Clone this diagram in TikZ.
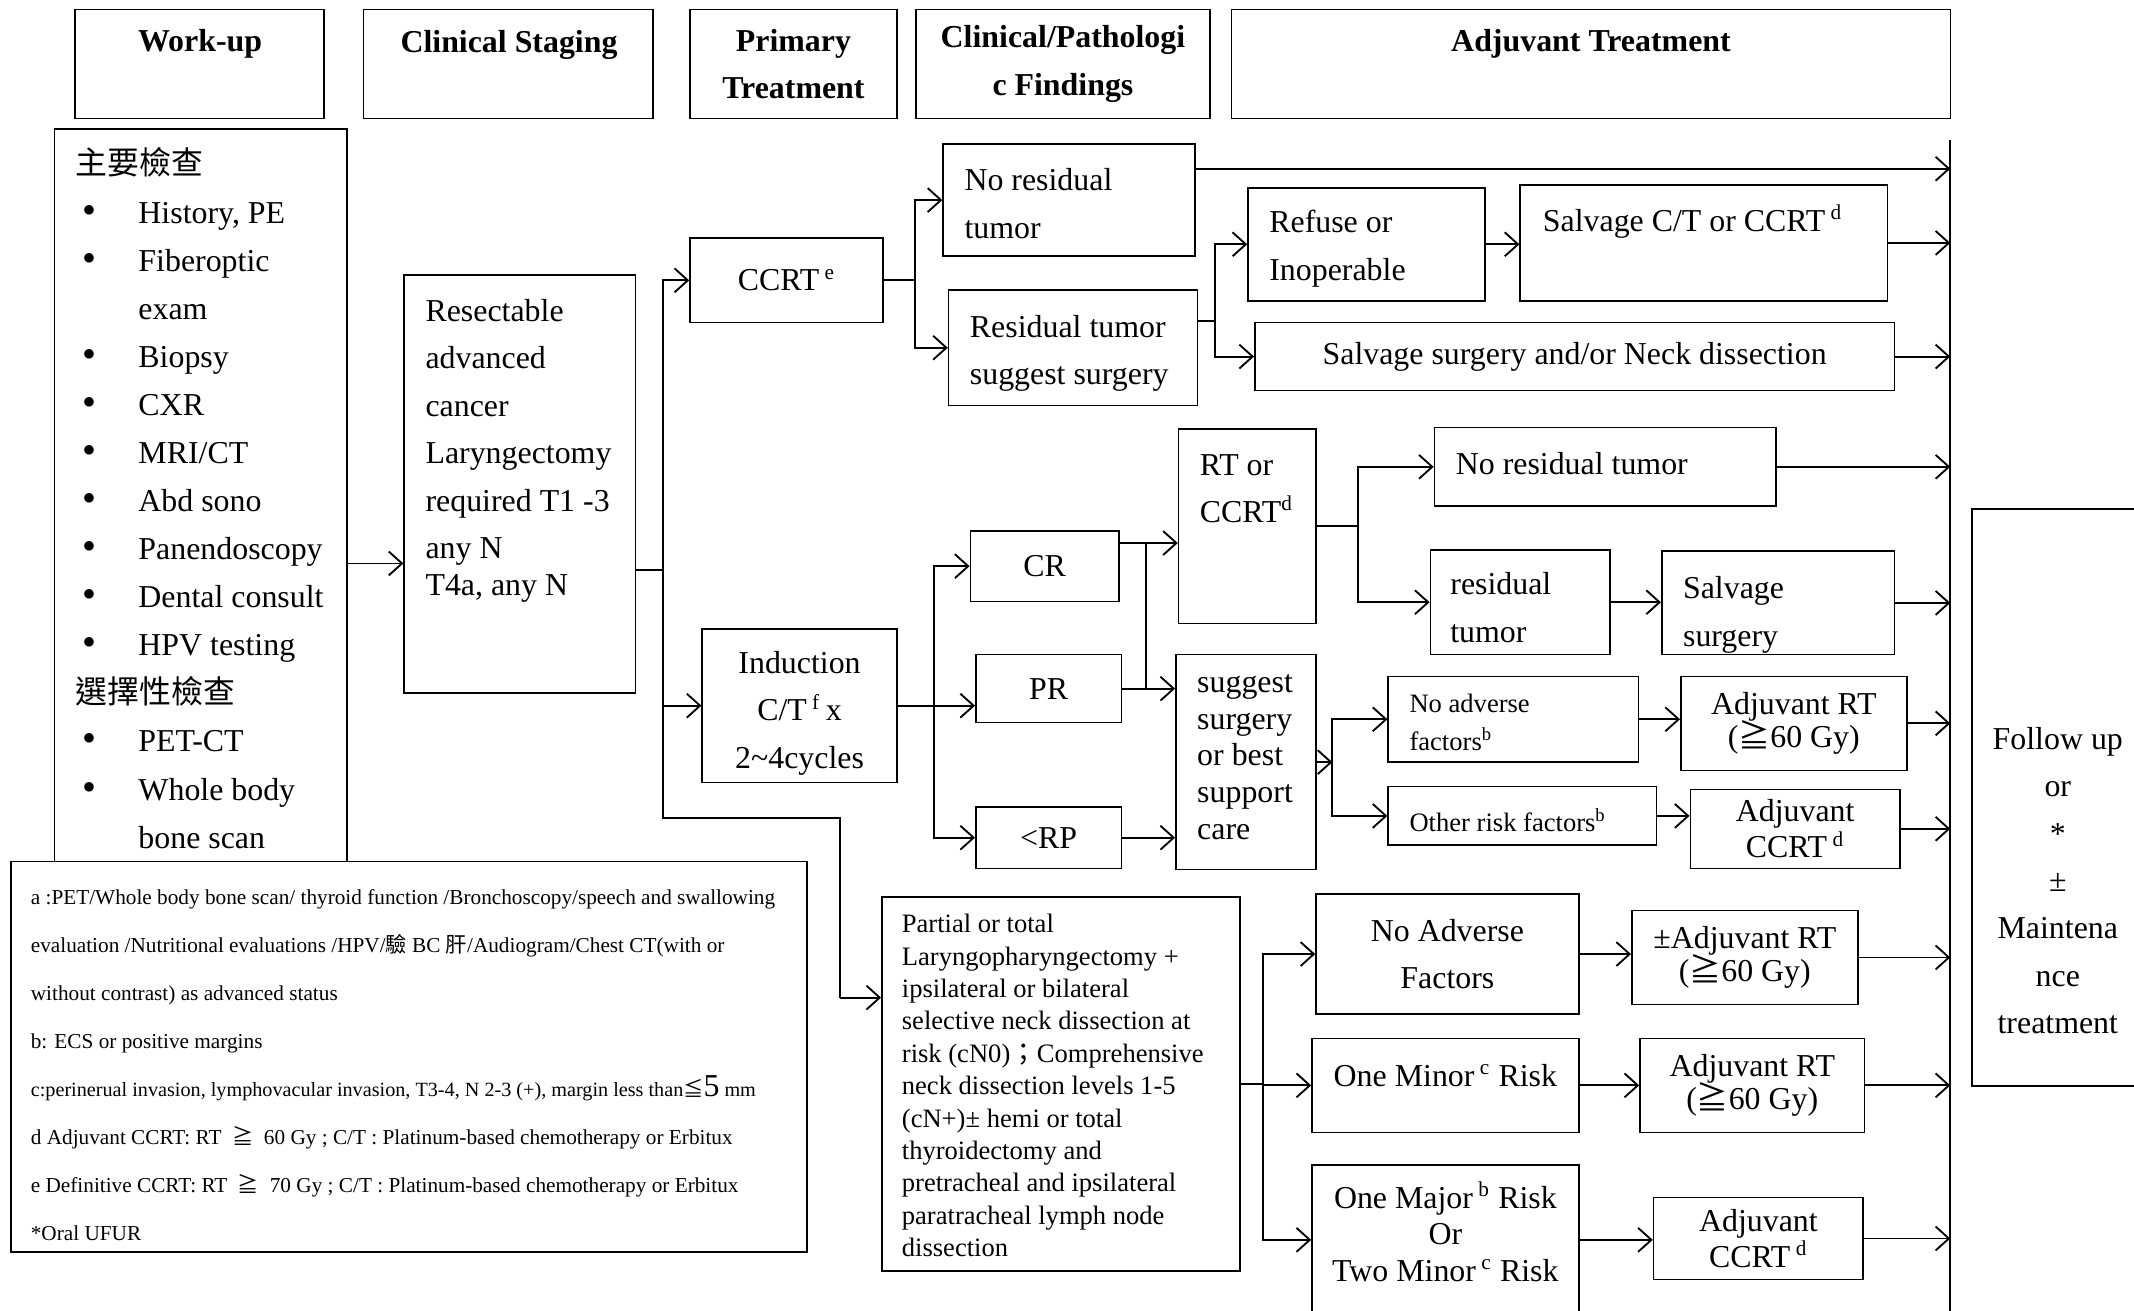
\documentclass[tikz,border=0pt]{standalone}
\usepackage{fontspec}
\setmainfont{Liberation Serif}
\newfontfamily\cjk{Noto Sans CJK TC}
\usetikzlibrary{arrows.meta,positioning}

\newcommand{\px}{0.018cm}
% box from (x1,y1) to (x2,y2), y counted downwards
\newcommand{\bx}[7][]{\node[box,#1,minimum width={(#5-#3)*\px},minimum height={(#6-#4)*\px}] (#2) at ({(#3+#5)/2},{(#4+#6)/2}) {#7};}
\newcommand{\itm}[1]{\hspace*{2.6pt}\makebox[21pt][l]{\smash{\fontsize{15}{15}\selectfont •}}#1}
\newcommand{\cnt}[1]{\hspace*{23.6pt}#1}
\newcommand{\geqc}{\smash{\cjk ≧}}
\newcommand{\leqc}{\smash{\cjk ≦}}
\AtBeginDocument{\fontsize{12}{17.9}\selectfont}

\tikzset{
  box/.style={draw, line width=0.6pt, inner sep=0pt, align=center},
  txt/.style={inner sep=0pt, anchor=north west, align=left},
}

\begin{document}
\begin{tikzpicture}[x=\px, y=-\px, line width=0.7pt, >={Straight Barb[length=5pt,width=9pt]}]
\useasboundingbox (0,0) rectangle (1568,963);

% column headers
\bx{hwork}{55}{7}{238}{87}{}
\node[font=\bfseries] (lwork) at (147,32) {Work-up};
\bx{hstage}{267}{7}{480}{87}{}
\node[font=\bfseries] (lstage) at (374,33) {Clinical Staging};
\bx[font=\bfseries]{hprim}{507}{7}{659}{87}{Primary\\Treatment}
\bx[font=\bfseries]{hfind}{673}{7}{889}{87}{Clinical/Pathologi\\c Findings}
\bx{hadj}{905}{7}{1433}{87}{}
\node[font=\bfseries] (ladj) at (1169,32) {Adjuvant Treatment};

% work-up
\bx{work}{40}{95}{255}{700}{}
\node[txt, font=\fontsize{12}{18.1}\selectfont] (lworkup) at (55,108) {{\cjk 主要檢查}\\
  \itm{History, PE}\\ \itm{Fiberoptic}\\ \cnt{exam}\\ \itm{Biopsy}\\ \itm{CXR}\\
  \itm{MRI/CT}\\ \itm{Abd sono}\\ \itm{Panendoscopy}\\ \itm{Dental consult}\\
  \itm{HPV testing}\\ {\cjk 選擇性檢查}\\ \itm{PET-CT}\\ \itm{Whole body}\\ \cnt{bone scan}};

% clinical staging
\bx{stage}{297}{202}{467}{509}{}
\node[txt] (lstage2) at (312,219) {Resectable\\advanced\\cancer\\Laryngectomy\\required T1 -3\\any N\\[-4.3pt]T4a, any N};

% primary treatment
\bx{ccrt}{507}{175}{649}{237}{CCRT\,\textsuperscript{e}}
\bx{induct}{516}{462}{659}{575}{}
\node[align=center] (linduct) at (587.5,524) {Induction\\C/T\,\textsuperscript{f}\,x\\2\textasciitilde4cycles};
\bx{partial}{648}{659}{911}{934}{}
\node[txt, font=\fontsize{10}{12.2}\selectfont] (lpartial) at (662,671) {Partial or total\\
  Laryngopharyngectomy +\\ipsilateral or bilateral\\selective neck dissection at\\
  risk (cN0){\cjk ；}Comprehensive\\neck dissection levels 1-5\\(cN+)± hemi or total\\
  thyroidectomy and\\pretracheal and ipsilateral\\paratracheal lymph node\\dissection};

% findings after CCRT
\bx{nores1}{693}{106}{878}{188}{}
\node[txt] (lnores1) at (708,123) {No residual\\tumor};
\bx{resid1}{697}{213}{880}{298}{}
\node[txt] (lresid1) at (712,231) {Residual tumor\\suggest surgery};
\bx{refuse}{917}{138}{1091}{221}{}
\node[txt] (lrefuse) at (932,154) {Refuse or\\Inoperable};
\bx{salvct}{1117}{136}{1387}{221}{}
\node[txt, anchor=base west] (lsalvct) at (1133,170) {Salvage C/T or CCRT\,\textsuperscript{d}};
\bx{salvsurg}{922}{237}{1392}{287}{Salvage surgery and/or Neck dissection}

% findings after induction
\bx{cr}{713}{390}{822}{442}{CR}
\bx{pr}{717}{481}{824}{531}{PR}
\bx{rp}{717}{593}{824}{638}{\textless RP}
\bx{rtc}{866}{315}{967}{458}{}
\node[txt] (lrtc) at (881,333) {RT or\\CCRT\textsuperscript{d}};
\bx{sugg}{864}{481}{967}{639}{}
\node[txt, font=\fontsize{12}{13.8}\selectfont] (lsugg) at (879,495) {suggest\\surgery\\or best\\support\\care};
\bx{nores2}{1054}{314}{1305}{372}{}
\node[txt, anchor=base west] (lnores2) at (1069,349) {No residual tumor};
\bx{resid2}{1051}{404}{1183}{481}{}
\node[txt] (lresid2) at (1065,420) {residual\\tumor};
\bx{salvs}{1221}{405}{1392}{481}{}
\node[txt] (lsalvs) at (1236,423) {Salvage\\surgery};
\bx{noadv1}{1020}{497}{1204}{560}{}
\node[txt, font=\fontsize{10}{14.3}\selectfont] (lnoadv1) at (1035,509) {No adverse\\factors\textsuperscript{b}};
\bx{other}{1020}{578}{1217}{621}{}
\node[txt, anchor=base west, font=\fontsize{10}{12}\selectfont] (lother) at (1035,611) {Other risk factors\textsuperscript{b}};
\bx[font=\fontsize{12}{12.3}\selectfont]{adjrt1}{1235}{497}{1401}{566}{Adjuvant RT\\(\geqc60 Gy)}
\bx[font=\fontsize{12}{11.8}\selectfont]{adjcc1}{1242}{580}{1396}{638}{Adjuvant\\CCRT\,\textsuperscript{d}}

% after surgery
\bx{noadv2}{967}{657}{1160}{745}{No Adverse\\Factors}
\bx{minor}{964}{763}{1160}{832}{}
\node (lminor) at (1062,790) {One Minor\,\textsuperscript{c} Risk};
\bx{major}{964}{856}{1160}{966}{}
\node[align=center, font=\fontsize{12}{13.8}\selectfont] (lmajor) at (1062,905) {One Major\,\textsuperscript{b} Risk\\Or\\Two Minor\,\textsuperscript{c} Risk};
\bx[font=\fontsize{12}{12.3}\selectfont]{adjrt2}{1199}{669}{1365}{738}{±Adjuvant RT\\(\geqc60 Gy)}
\bx[font=\fontsize{12}{12.3}\selectfont]{adjrt3}{1205}{763}{1370}{832}{Adjuvant RT\\(\geqc60 Gy)}
\bx[font=\fontsize{12}{11.8}\selectfont]{adjcc2}{1215}{880}{1369}{940}{Adjuvant\\CCRT\,\textsuperscript{d}}

% follow up
\bx{follow}{1449}{374}{1600}{798}{}
\node[align=center, font=\fontsize{12}{17.8}\selectfont] (lfollow) at (1512,647) {Follow up\\or\\{*}\\±\\Maintena\\nce\\treatment};

% footnotes
\bx[fill=white]{notes}{8}{633}{593}{920}{}
\node[txt, font=\fontsize{8}{18.07}\selectfont] (lnotes) at (22,653) {a :PET/Whole body bone scan/ thyroid function /Bronchoscopy/speech and swallowing\\
  evaluation /Nutritional evaluations /HPV/{\cjk 驗} BC {\cjk 肝}/Audiogram/Chest CT(with or\\
  without contrast) as advanced status\\
  b: ECS or positive margins\\
  {\fontsize{7.6}{18.07}\selectfont c:perinerual invasion, lymphovacular invasion, T3-4, N 2-3 (+), margin less than\leqc{\fontsize{12}{12}\selectfont 5} mm}\\
  d Adjuvant CCRT: RT \ \geqc\ \ 60 Gy ; C/T : Platinum-based chemotherapy or Erbitux\\
  e Definitive CCRT: RT \ \geqc\ \ 70 Gy ; C/T : Platinum-based chemotherapy or Erbitux\\
  *Oral UFUR};

% right collecting line
\coordinate (rtop) at (1433,103);
\coordinate (rbot) at (1433,963);
\draw (rtop) -- (rbot);

% connectors
\coordinate (w2s) at (257,414);
\draw[->] (work.east |- w2s) -- (stage.west |- w2s);
\coordinate (t1) at (487,419);
\coordinate (t1b) at (487,601);
\coordinate (p1) at (617,733);
\draw (stage.east |- t1) -- (t1);
\draw[->] (t1) |- (ccrt.west);
\draw[->] (t1) |- (induct.west);
\draw (t1) -- (t1b) -- (t1b -| p1) -- (p1);
\draw[->] (p1) -- (p1 -| partial.west);

\coordinate (t2) at (672,206);
\draw (ccrt.east) -- (t2);
\draw[->] (t2) |- (nores1.west);
\draw[->] (t2) |- (resid1.west);
\coordinate (r1) at (1433,124);
\draw[->] (nores1.east |- r1) -- (r1);
\coordinate (t3) at (893,236);
\draw (resid1.east |- t3) -- (t3);
\draw[->] (t3) |- (refuse.west);
\draw[->] (t3) |- (salvsurg.west);
\draw[->] (refuse.east) -- (refuse.east -| salvct.west);
\draw[->] (salvct.east) -- (salvct.east -| rtop);
\draw[->] (salvsurg.east) -- (salvsurg.east -| rtop);

\coordinate (t4) at (686,518.5);
\draw[->] (induct.east) -- (induct.east -| pr.west);
\draw[->] (t4) |- (cr.west);
\draw[->] (t4) |- (rp.west);
\coordinate (k1) at (842,399);
\draw[->] (cr.east |- k1) -- (k1 -| rtc.west);
\draw (k1) -- (k1 |- pr.east);
\draw[->] (pr.east) -- (pr.east -| sugg.west);
\draw[->] (rp.east) -- (rp.east -| sugg.west);

\coordinate (t6) at (998,386.5);
\draw (rtc.east) -- (t6);
\draw[->] (t6) |- (nores2.west);
\draw[->] (t6) |- (resid2.west);
\draw[->] (nores2.east) -- (nores2.east -| rtop);
\draw[->] (resid2.east) -- (resid2.east -| salvs.west);
\draw[->] (salvs.east) -- (salvs.east -| rtop);

\coordinate (t7) at (979,560);
\draw[->] (sugg.east) -- (t7);
\draw[->] (t7) |- (noadv1.west);
\draw[->] (t7) |- (other.west);
\draw[->] (noadv1.east) -- (noadv1.east -| adjrt1.west);
\draw[->] (other.east) -- (other.east -| adjcc1.west);
\draw[->] (adjrt1.east) -- (adjrt1.east -| rtop);
\draw[->] (adjcc1.east) -- (adjcc1.east -| rtop);

\coordinate (t8) at (928,796.5);
\draw (partial.east) -- (t8);
\draw[->] (t8) |- (noadv2.west);
\draw[->] (t8) |- (minor.west);
\draw[->] (t8) |- (major.west);
\draw[->] (noadv2.east) -- (noadv2.east -| adjrt2.west);
\draw[->] (minor.east) -- (minor.east -| adjrt3.west);
\draw[->] (major.east) -- (major.east -| adjcc2.west);
\draw[->] (adjrt2.east) -- (adjrt2.east -| rtop);
\draw[->] (adjrt3.east) -- (adjrt3.east -| rtop);
\draw[->] (adjcc2.east) -- (adjcc2.east -| rtop);
\end{tikzpicture}
\end{document}
